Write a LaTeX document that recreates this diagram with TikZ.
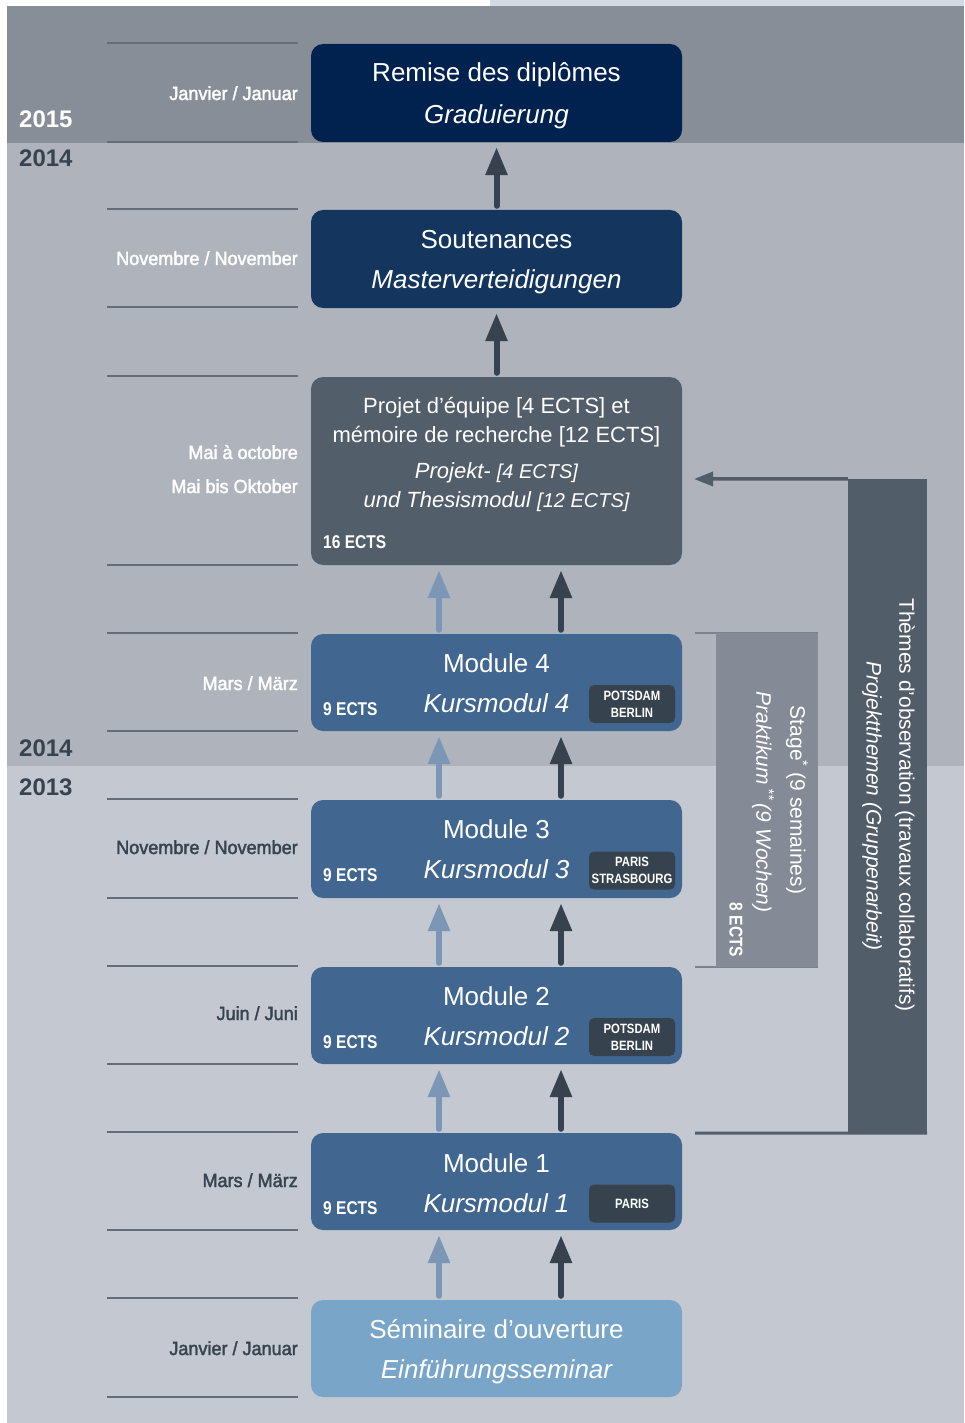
\documentclass[tikz,border=0pt]{standalone}
\usepackage{fontspec}
\setmainfont{Liberation Sans}
\newfontfamily\labelfont[FakeStretch=0.95,FakeBold=2]{Liberation Sans}
\newfontfamily\condfont[FakeStretch=0.84]{Liberation Sans}
\usetikzlibrary{arrows.meta}
\definecolor{topstrip}{HTML}{D4DAE4}
\definecolor{bandA}{HTML}{878E98}
\definecolor{bandB}{HTML}{AEB3BC}
\definecolor{bandC}{HTML}{C4C8D0}
\definecolor{lineC}{HTML}{646D78}
\definecolor{remC}{HTML}{01214E}
\definecolor{soutC}{HTML}{13355E}
\definecolor{projC}{HTML}{535E6B}
\definecolor{modC}{HTML}{41668F}
\definecolor{semC}{HTML}{79A5C8}
\definecolor{badgeC}{HTML}{36434F}
\definecolor{darkC}{HTML}{36434F}
\definecolor{lightC}{HTML}{7C97B5}
\definecolor{stageC}{HTML}{848B96}
\definecolor{stageL}{HTML}{7A828D}
\definecolor{themC}{HTML}{525D6A}
\definecolor{yearC}{HTML}{37444F}
\tikzset{
  box/.style={rounded corners=12pt, minimum width=371pt, inner sep=0pt, draw=none},
  badge/.style={fill=badgeC, rounded corners=5pt, minimum width=86pt, minimum height=38pt, inner sep=0pt, align=center, text=white, font=\condfont\bfseries\fontsize{13.5}{17}\selectfont},
  ttl/.style={anchor=base, text=white, inner sep=0pt, font=\fontsize{26}{30}\selectfont},
  ttli/.style={anchor=base, text=white, inner sep=0pt, font=\itshape\fontsize{26}{30}\selectfont},
  ptxt/.style={anchor=base, text=white, inner sep=0pt, font=\fontsize{22}{26}\selectfont},
  ptxti/.style={anchor=base, text=white, inner sep=0pt, font=\itshape\fontsize{22}{26}\selectfont},
  ects/.style={anchor=base west, text=white, inner sep=0pt, font=\condfont\bfseries\fontsize{18.5}{20}\selectfont},
  month/.style={anchor=base east, inner sep=0pt, font=\labelfont\fontsize{19}{22}\selectfont},
  year/.style={anchor=base west, inner sep=0pt, font=\bfseries\fontsize{24}{28}\selectfont},
  leftline/.style={draw=lineC, line width=2pt},
  darrow/.style={draw=darkC, line width=6pt, line cap=round, -{Triangle[width=21pt,length=28pt]}},
  larrow/.style={draw=lightC, line width=6pt, line cap=round, -{Triangle[width=21pt,length=28pt]}},
  vtxt/.style={rotate=-90, anchor=center, text=white, inner sep=0pt, font=\fontsize{21}{24}\selectfont},
}
\begin{document}
\begin{tikzpicture}[x=1pt,y=-1pt]
\useasboundingbox (0,0) rectangle (964,1423);
\fill[white] (0,0) rectangle (964,1423);
\fill[topstrip] (490,0) rectangle (964,6);
\fill[bandA] (7,6) rectangle (964,143);
\fill[bandB] (7,143) rectangle (964,766);
\fill[bandC] (7,766) rectangle (964,1423);

% year labels
\node[year, text=white] (y2015) at (19,128) {2015};
\node[year, text=yearC] (y2014a) at (19,167) {2014};
\node[year, text=yearC] (y2014b) at (19,756) {2014};
\node[year, text=yearC] (y2013) at (19,795) {2013};

% left lines
\foreach \yy in {43,142,209,307,376,565,633,731,799,898,966,1064,1132,1230,1298,1397}
  \draw[leftline] (107,\yy) -- (298,\yy);

% month labels
\node[month, text=white] (mrem) at (298,100) {Janvier / Januar};
\node[month, text=white] (msout) at (298,265) {Novembre / November};
\node[month, text=white] (mproj1) at (298,459) {Mai à octobre};
\node[month, text=white] (mproj2) at (298,493) {Mai bis Oktober};
\node[month, text=white] (mm4) at (298,690) {Mars / März};
\node[month, text=yearC] (mm3) at (298,854) {Novembre / November};
\node[month, text=yearC] (mm2) at (298,1020) {Juin / Juni};
\node[month, text=yearC] (mm1) at (298,1187) {Mars / März};
\node[month, text=yearC] (msem) at (298,1355) {Janvier / Januar};

% right bars
\draw[draw=stageL, line width=2pt] (695,633) -- (818,633);
\draw[draw=stageL, line width=2pt] (695,967) -- (818,967);
\node[fill=stageC, minimum width=102pt, minimum height=334pt, inner sep=0pt] (stage) at (767,800) {};
\node[vtxt] (stageA) at (797,800) {Stage\textsuperscript{*} (9 semaines)};
\node[vtxt, font=\itshape\fontsize{21}{24}\selectfont] (stageB) at (763,802) {Praktikum\,\textsuperscript{**}\,(9 Wochen)};
\node[vtxt, font=\condfont\bfseries\fontsize{18.5}{20}\selectfont] (stageC) at (736,930) {8 ECTS};

\node[fill=themC, minimum width=79pt, minimum height=654pt, inner sep=0pt] (thm) at (887.5,806) {};
\coordinate (thmtip) at (694,479);
\coordinate (thmbot) at (695,1133);
\draw[draw=themC, line width=3.5pt, -{Triangle[width=14pt,length=19pt]}] (thm.north west) -- (thmtip);
\draw[draw=themC, line width=3pt] (thm.south east) -- (thmbot);
\node[vtxt] (thmA) at (905,805) {Thèmes d’observation (travaux collaboratifs)};
\node[vtxt, font=\itshape\fontsize{21}{24}\selectfont] (thmB) at (872,806) {Projektthemen (Gruppenarbeit)};

% boxes
\node[box, fill=remC, minimum height=98pt] (rem) at (496.5,93) {};
\node[ttl] (remA) at (496.5,82) {Remise des diplômes};
\node[ttli] (remB) at (496.5,124) {Graduierung};

\node[box, fill=soutC, minimum height=98pt] (sout) at (496.5,259) {};
\node[ttl] (soutA) at (496.5,248) {Soutenances};
\node[ttli] (soutB) at (496.5,288) {Masterverteidigungen};

\node[box, fill=projC, minimum height=188pt] (proj) at (496.5,471) {};
\node[ptxt] (projA) at (496.5,413) {Projet d’équipe [4 ECTS] et};
\node[ptxt] (projB) at (496.5,442) {mémoire de recherche [12 ECTS]};
\node[ptxti] (projC) at (496.5,478) {Projekt- {\fontsize{20}{24}\selectfont[4 ECTS]}};
\node[ptxti] (projD) at (496.5,507) {und Thesismodul {\fontsize{20}{24}\selectfont[12 ECTS]}};
\node[ects] (projE) at (323,548) {16 ECTS};

\node[box, fill=modC, minimum height=97pt] (m4) at (496.5,682.5) {};
\node[ttl] (m4A) at (496.5,672) {Module 4};
\node[ttli] (m4B) at (496.5,712) {Kursmodul 4};
\node[ects] (m4C) at (323,715) {9 ECTS};
\node[badge] (m4D) at (632,704) {POTSDAM\\BERLIN};

\node[box, fill=modC, minimum height=98pt] (m3) at (496.5,849) {};
\node[ttl] (m3A) at (496.5,838) {Module 3};
\node[ttli] (m3B) at (496.5,878) {Kursmodul 3};
\node[ects] (m3C) at (323,881) {9 ECTS};
\node[badge] (m3D) at (632,870.5) {PARIS\\STRASBOURG};

\node[box, fill=modC, minimum height=97pt] (m2) at (496.5,1015.5) {};
\node[ttl] (m2A) at (496.5,1005) {Module 2};
\node[ttli] (m2B) at (496.5,1045) {Kursmodul 2};
\node[ects] (m2C) at (323,1048) {9 ECTS};
\node[badge] (m2D) at (632,1037) {POTSDAM\\BERLIN};

\node[box, fill=modC, minimum height=97pt] (m1) at (496.5,1181.5) {};
\node[ttl] (m1A) at (496.5,1172) {Module 1};
\node[ttli] (m1B) at (496.5,1212) {Kursmodul 1};
\node[ects] (m1C) at (323,1214) {9 ECTS};
\node[badge] (m1D) at (632,1203.5) {PARIS};

\node[box, fill=semC, minimum height=97pt] (sem) at (496.5,1348.5) {};
\node[ttl] (semA) at (496.5,1338) {Séminaire d’ouverture};
\node[ttli] (semB) at (496.5,1378) {Einführungsseminar};

% arrows
\draw[darrow] ([yshift=4pt]sout.north) -- ([yshift=-5pt]rem.south);
\draw[darrow] ([yshift=4pt]proj.north) -- ([yshift=-5pt]sout.south);
\foreach \lo/\hi in {m4/proj, m3/m4, m2/m3, m1/m2, sem/m1} {
  \draw[larrow] ([xshift=-57.5pt,yshift=4pt]\lo.north) -- ([xshift=-57.5pt,yshift=-5pt]\hi.south);
  \draw[darrow] ([xshift=64.5pt,yshift=4pt]\lo.north) -- ([xshift=64.5pt,yshift=-5pt]\hi.south);
}
\end{tikzpicture}
\end{document}
